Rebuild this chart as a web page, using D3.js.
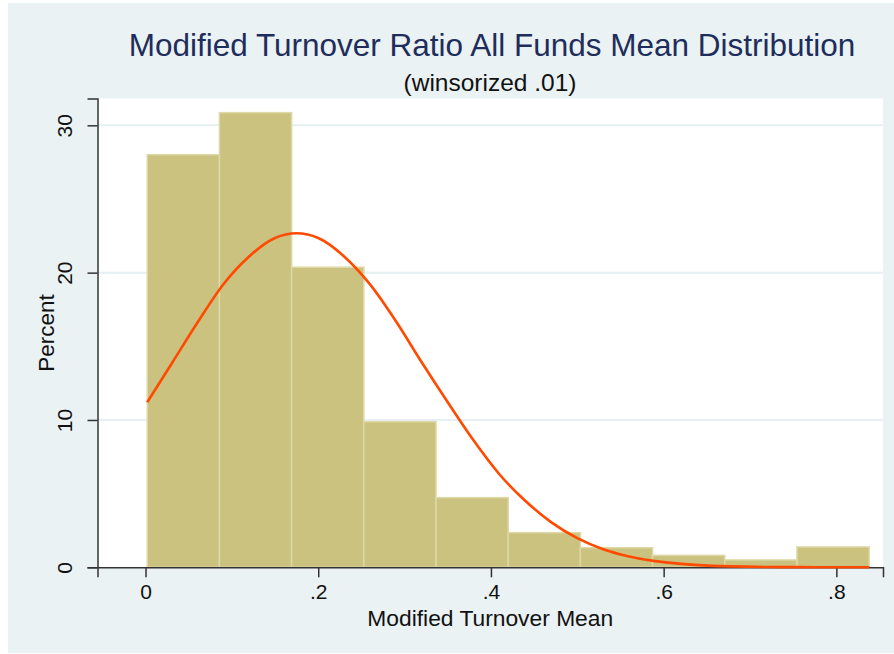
<!DOCTYPE html>
<html>
<head>
<meta charset="utf-8">
<script src="https://cdn.jsdelivr.net/npm/d3@7"></script>
<style>
  body { margin: 0; background: #ffffff; }
  svg text { font-family: "Liberation Sans", Arial, sans-serif; }
</style>
</head>
<body>
<div id="chart"></div>
<script>
"use strict";

// Histogram bins (left/right edges) and percent heights.
let binEdges = [0.002, 0.0856, 0.1692, 0.2528, 0.3364, 0.42, 0.5036, 0.5872, 0.6708, 0.7544, 0.838];
let binPercent = [28.0, 30.86, 20.37, 9.88, 4.73, 2.35, 1.33, 0.81, 0.50, 1.38];

// Normal density overlay.
let curveX = [0.002, 0.03, 0.06, 0.09, 0.12, 0.15, 0.175, 0.20, 0.23, 0.26, 0.29, 0.32, 0.35,
  0.38, 0.41, 0.44, 0.47, 0.50, 0.53, 0.56, 0.60, 0.64, 0.68, 0.72, 0.76, 0.80, 0.838];
let curveY = [11.2, 13.8, 16.6, 19.2, 21.1, 22.35, 22.67, 22.35, 21.1, 19.2, 16.7, 13.9, 11.2,
  8.6, 6.3, 4.5, 3.05, 1.98, 1.23, 0.74, 0.35, 0.15, 0.06, 0.02, 0.01, 0.0, 0.0];

let xTicks = [0, 0.2, 0.4, 0.6, 0.8];
let xTickLabels = ["0", ".2", ".4", ".6", ".8"];
let yTicks = [0, 10, 20, 30];
let yGrid = [10, 20, 30];

let titleText = "Modified Turnover Ratio All Funds Mean Distribution";
let subtitleText = "(winsorized .01)";
let xTitle = "Modified Turnover Mean";
let yTitle = "Percent";

const width = 894;
const height = 654;
const plotLeft = 97.5, plotRight = 883, plotTop = 98.5, plotBottom = 567.3;

let svg = d3.select("#chart")
  .append("svg")
  .attr("width", width)
  .attr("height", height);

// Outer graph region
svg.append("rect")
  .attr("x", 8).attr("y", 3)
  .attr("width", width - 8).attr("height", 650)
  .attr("fill", "#eaf2f3");

// Plot region
svg.append("rect")
  .attr("x", plotLeft).attr("y", plotTop)
  .attr("width", plotRight - plotLeft).attr("height", plotBottom - plotTop)
  .attr("fill", "#ffffff");

let x = d3.scaleLinear().domain([-0.0556, 0.854]).range([plotLeft, plotRight]);
let y = d3.scaleLinear().domain([0, 31.82]).range([plotBottom, plotTop]);

// Grid lines
svg.append("g").selectAll("line")
  .data(yGrid)
  .enter()
  .append("line")
  .attr("x1", plotLeft).attr("x2", plotRight)
  .attr("y1", d => y(d)).attr("y2", d => y(d))
  .attr("stroke", "#e6eff1")
  .attr("stroke-width", 2);

// Bars
let bins = binPercent.map((p, i) => ({ x0: binEdges[i], x1: binEdges[i + 1], pct: p }));
svg.append("g").selectAll("rect")
  .data(bins)
  .enter()
  .append("rect")
  .attr("x", d => x(d.x0))
  .attr("y", d => y(d.pct))
  .attr("width", d => x(d.x1) - x(d.x0))
  .attr("height", d => y(0) - y(d.pct))
  .attr("fill", "#cac27e")
  .attr("stroke", "#ddd8a6")
  .attr("stroke-width", 1.5);

// Axes
let xAxis = svg.append("g")
  .attr("transform", `translate(0,${plotBottom})`)
  .call(d3.axisBottom(x).tickValues(xTicks).tickFormat((d, i) => xTickLabels[i])
    .tickSizeOuter(0).tickSize(10).tickPadding(10));

let yAxis = svg.append("g")
  .attr("transform", `translate(${plotLeft},0)`)
  .call(d3.axisLeft(y).tickValues(yTicks).tickSizeOuter(0).tickSize(10).tickPadding(8));

[xAxis, yAxis].forEach(ax => {
  ax.select(".domain").attr("stroke", "#333333").attr("stroke-width", 1.5);
  ax.selectAll(".tick line").attr("stroke", "#333333").attr("stroke-width", 1.5);
  ax.selectAll(".tick text")
    .attr("fill", "#111111")
    .style("font-size", "21px")
    .style("font-family", "'Liberation Sans', Arial, sans-serif");
});

// Rotate y tick labels like Stata does
yAxis.selectAll(".tick text")
  .attr("transform", "rotate(-90)")
  .attr("x", 0)
  .attr("y", -26)
  .attr("dy", 0)
  .attr("text-anchor", "middle");

xAxis.selectAll(".tick text").attr("dy", 0).attr("y", 32);

// Normal curve
let line = d3.line()
  .x((d, i) => x(curveX[i]))
  .y(d => y(d))
  .curve(d3.curveMonotoneX);

svg.append("path")
  .datum(curveY)
  .attr("d", line)
  .attr("fill", "none")
  .attr("stroke", "#ff4a00")
  .attr("stroke-width", 2.6);

// Titles
svg.append("text")
  .attr("x", 492).attr("y", 56)
  .attr("text-anchor", "middle")
  .style("font-size", "31.5px")
  .attr("fill", "#1f2d5c")
  .text(titleText);

svg.append("text")
  .attr("x", 490).attr("y", 91)
  .attr("text-anchor", "middle")
  .style("font-size", "24.5px")
  .attr("fill", "#111111")
  .text(subtitleText);

svg.append("text")
  .attr("x", (plotLeft + plotRight) / 2).attr("y", 626)
  .attr("text-anchor", "middle")
  .style("font-size", "22.8px")
  .attr("fill", "#111111")
  .text(xTitle);

svg.append("text")
  .attr("transform", `translate(54,${(plotTop + plotBottom) / 2}) rotate(-90)`)
  .attr("text-anchor", "middle")
  .style("font-size", "22.5px")
  .attr("fill", "#111111")
  .text(yTitle);
</script>
</body>
</html>
